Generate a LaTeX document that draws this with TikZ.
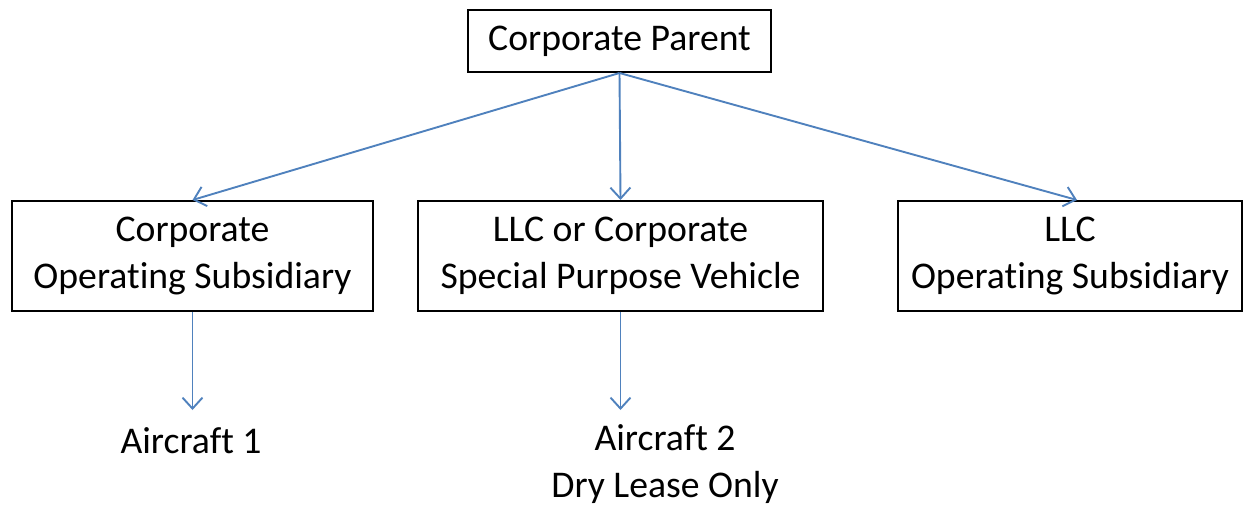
\documentclass[tikz,border=0pt]{standalone}
\usepackage{fontspec}
\setmainfont[Ligatures={NoCommon,NoRare,NoContextual}, RawFeature={-liga;-clig;-dlig}]{Carlito}
\usetikzlibrary{arrows.meta}
\definecolor{linkblue}{HTML}{4F81BD}
\tikzset{
  entity/.style={draw=black, line width=2pt, align=center, inner sep=0pt},
  label/.style={align=center, inner sep=0pt},
  link/.style={draw=linkblue, line width=1.9pt, -{Straight Barb[length=11pt, width=20pt, line width=1.9pt]}}
}
\begin{document}
\begin{tikzpicture}[x=1pt, y=-1pt, font=\fontsize{37.7}{47}\selectfont]
                \useasboundingbox (0, 0) rectangle (1244, 506);

                \node (parent) at (619.5, 41) [entity, minimum width=303pt, minimum height=62pt] {Corporate Parent};
                \node (cos) at (192.5, 256) [entity, minimum width=361pt, minimum height=110pt] {Corporate\\Operat\kern0pt ing Subsidiary};
                \node (spv) at (620.5, 256) [entity, minimum width=405pt, minimum height=110pt] {LLC or Corporate\\Special Purpose Vehicle};
                \node (llc) at (1070, 256) [entity, minimum width=344pt, minimum height=110pt] {LLC\\Operat\kern0pt ing Subsidiary};

                \node (ac1) at (191, 441) [label] {Aircraf\kern0pt t 1};
                \node (ac2) at (665, 464) [label] {Aircraf\kern0pt t 2\\Dry Lease Only};

                \coordinate (ac1in) at (192.5, 410);
                \coordinate (ac2in) at (620.5, 410);

                \draw[link] (parent.south) -- (cos.north);
                \draw[link] (parent.south) -- (spv.north);
                \draw[link] (parent.south) -- ([xshift=7pt]llc.north);
                \draw[link] (cos.south) -- (ac1in);
                \draw[link] (spv.south) -- (ac2in);
            \end{tikzpicture}
\end{document}
